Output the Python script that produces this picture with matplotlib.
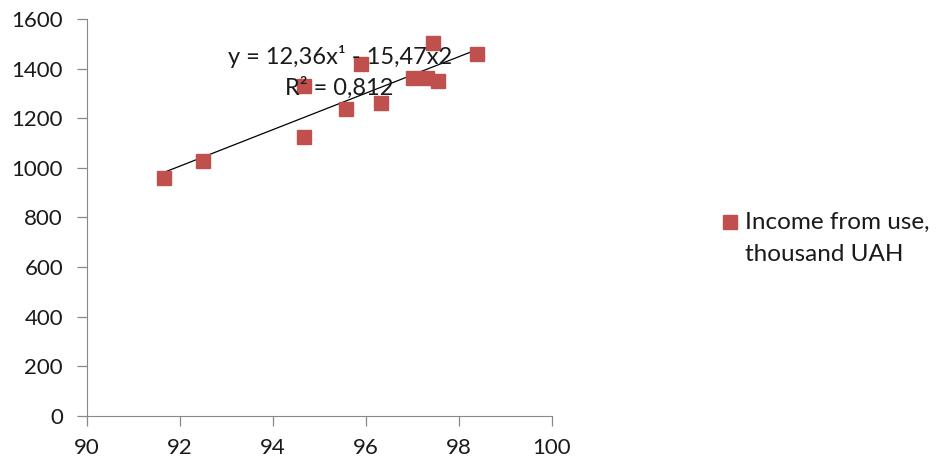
import numpy as np
import matplotlib
matplotlib.use('Agg')
import matplotlib.pyplot as plt
from matplotlib.lines import Line2D

plt.rcParams['font.family'] = ['Lato', 'DejaVu Sans']

# share of use, %  vs  income from use, thousand UAH
share = [91.66, 92.49, 94.67, 94.67, 95.58, 95.9, 96.32, 97.02, 97.31, 97.44, 97.56, 98.39]
income = [958, 1028, 1123, 1331, 1237, 1417, 1262, 1361, 1361, 1502, 1350, 1459]
series_name = ['Income from use,', 'thousand UAH']
eq_text = 'y = 12,36x\u00b9 - 15,47x2'
r2_text = 'R\u00b2 = 0,812'
red = '#C0504D'

fig = plt.figure(figsize=(9.37, 4.63), dpi=100)
ax = fig.add_axes([0.0925, 0.102, 0.4965, 0.857])

ax.plot(share, income, 's', color=red, markersize=10.5, zorder=3)

# linear trend line
k, b = np.polyfit(share, income, 1)
tx = np.array([min(share), max(share)])
ax.plot(tx, k * tx + b, color='black', lw=0.9, zorder=2)

ax.text(95.45, 1447, eq_text, ha='center', va='center', fontsize=17, color='#1a1a1a', zorder=4)
ax.text(95.43, 1321, r2_text, ha='center', va='center', fontsize=17, color='#1a1a1a', zorder=4)

ax.set_xlim(90, 100)
ax.set_ylim(0, 1600)
ax.set_xticks(range(90, 101, 2))
ax.set_yticks(range(0, 1601, 200))
for s in ['top', 'right']:
    ax.spines[s].set_visible(False)
for s in ['left', 'bottom']:
    ax.spines[s].set_color('#888888')
ax.tick_params(colors='#888888', labelcolor='#1a1a1a', labelsize=16, length=7, width=0.9)
ax.tick_params(axis='x', pad=9)
ax.tick_params(axis='y', pad=10)

# legend (marker lines up with the first text line, like Excel)
fig.add_artist(Line2D([0.779], [0.5205], marker='s', color=red, markersize=10.5,
                      linestyle='none', transform=fig.transFigure))
fig.text(0.795, 0.5205, series_name[0], ha='left', va='center', fontsize=17.5, color='#1a1a1a')
fig.text(0.795, 0.4514, series_name[1], ha='left', va='center', fontsize=17.5, color='#1a1a1a')

fig.savefig('out.png', dpi=100)
